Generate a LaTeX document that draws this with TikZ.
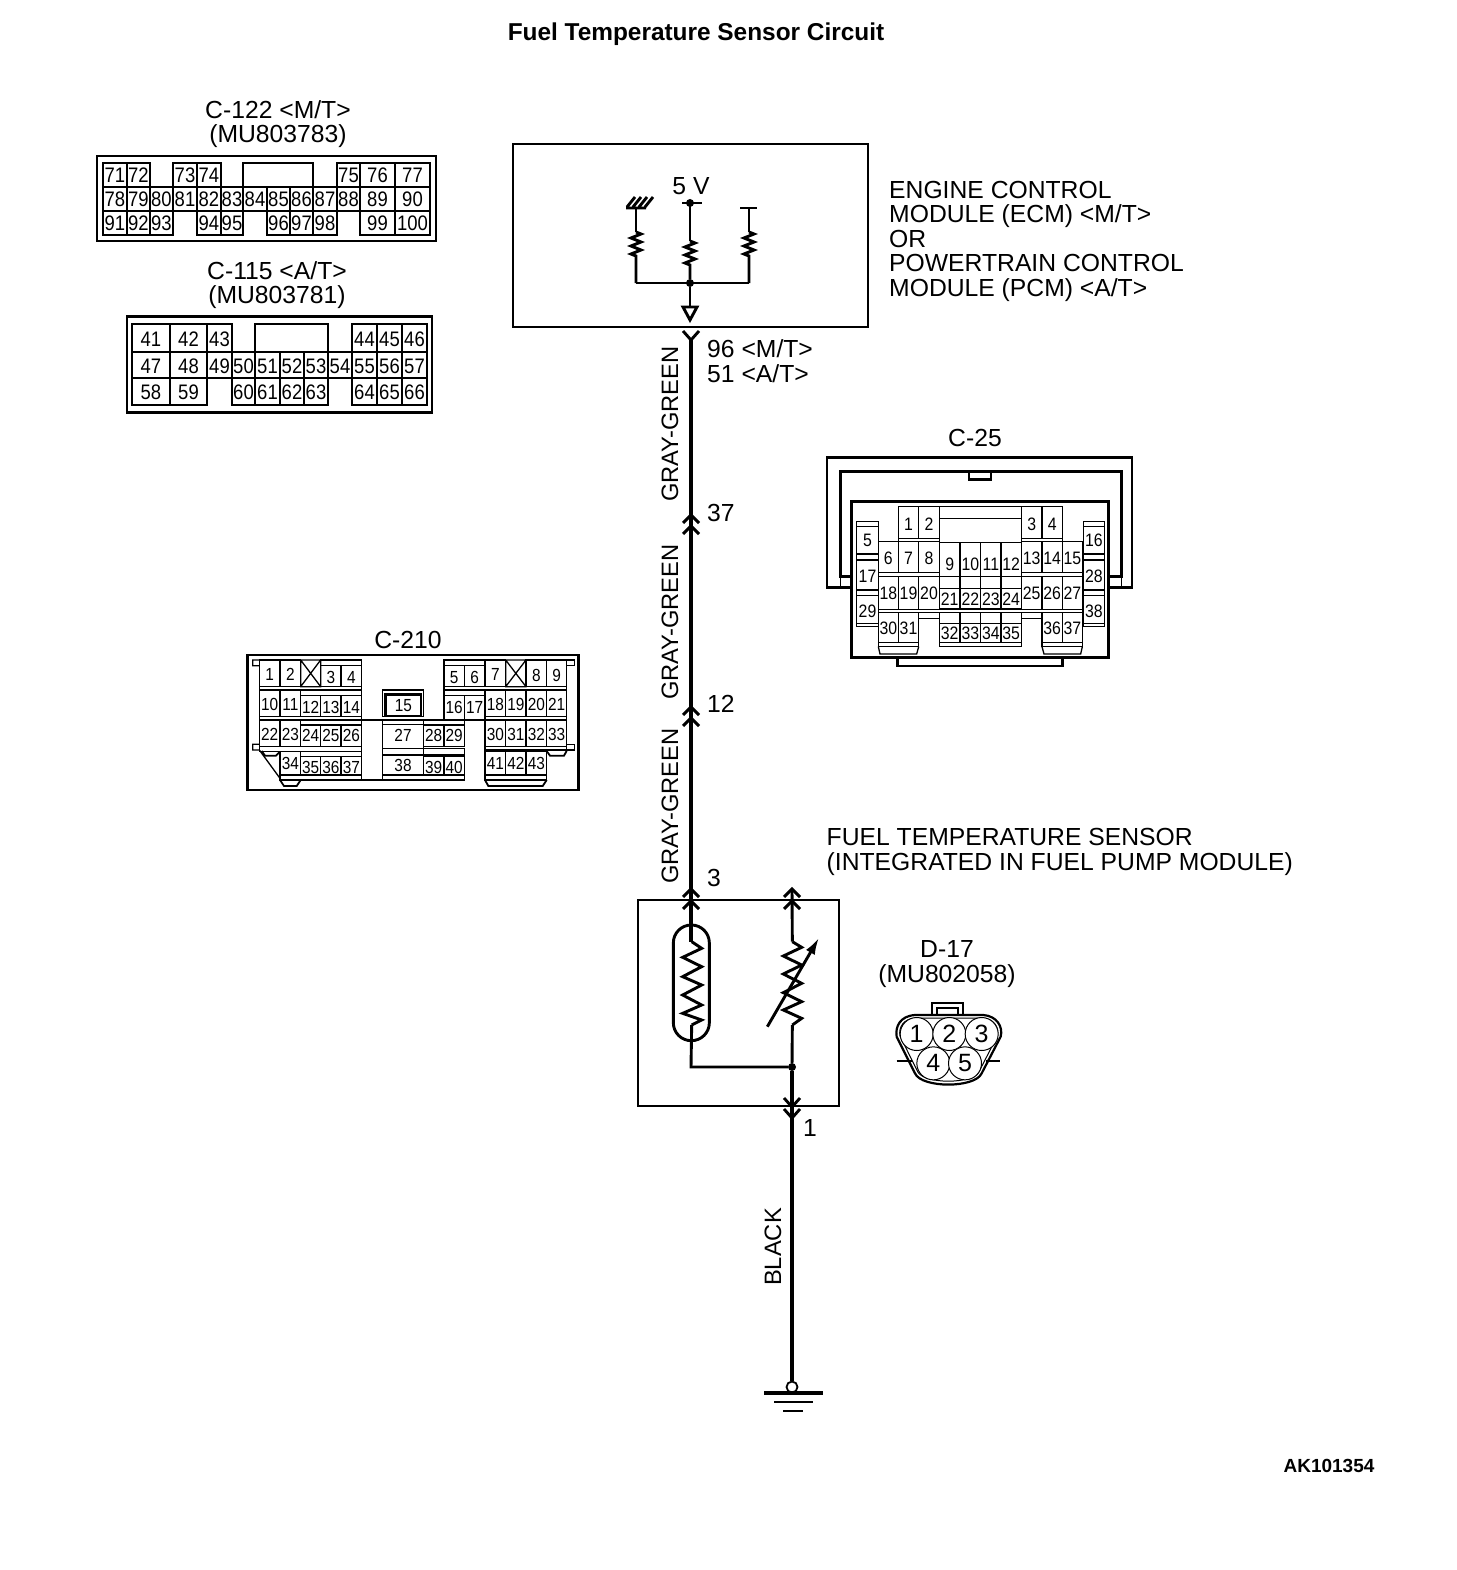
\documentclass[tikz,border=0pt]{standalone}
\usepackage{fontspec}
\setmainfont{Liberation Sans}
\newfontfamily\narrowface[FakeStretch=0.88]{Liberation Sans}
\usetikzlibrary{arrows.meta}
\tikzstyle{caption} = [inner sep=0pt, font=\fontsize{24.7}{24.5}\selectfont, align=center]
\tikzstyle{leftcaption} = [caption, align=left, anchor=west]
\tikzstyle{wirelabel} = [inner sep=0pt, font=\fontsize{23.7}{24}\selectfont, rotate=90]
\tikzstyle{ctrlbox} = [rectangle, draw, line width=2.8pt, inner sep=0pt]
\tikzstyle{shell} = [draw, line width=2.8pt]
\tikzstyle{pincell} = [draw, line width=1.9pt]
\tikzstyle{pinlab} = [inner sep=0pt, font=\pinfont]
\tikzstyle{wire} = [draw, line width=3.8pt]
\tikzstyle{thinwire} = [draw, line width=2.9pt]
\tikzstyle{dot} = [circle, fill, inner sep=0pt, minimum size=8pt]
\newcommand{\pinfont}{\narrowface\fontsize{21}{21}\selectfont}
% prefix, top, bottom, text height, list of left/right/label
\newcommand{\pinrow}[5]{
    \foreach \xa/\xb/\lab in {#5} {
        \draw [pincell] (\xa,#2) rectangle (\xb,#3);
        \node [pinlab] (#1-\lab) at ({(\xa+\xb)/2},#4) {\lab};
    }
}
\newcommand{\smallres}[2]{
    \draw [thinwire] (#1) -- ++(5,2) -- ++(-10,4) -- ++(10,4) -- ++(-10,4) -- ++(10,4) -- ++(-10,4) -- ++(5,2) -- (#2);
}

\begin{document}
\begin{tikzpicture}[x=1pt, y=-1pt, >={Latex[length=17pt,width=10pt]}]
    \useasboundingbox (0,0) rectangle (1456,1570);

    % Captions
    \node [caption, font=\fontsize{24.4}{24}\selectfont\bfseries] (title) at (696,34) {Fuel Temperature Sensor Circuit};
    \node [caption] (capC122) at (278,124) {C-122 <M/T>\\(MU803783)};
    \node [caption] (capC115) at (277,285) {C-115 <A/T>\\(MU803781)};
    \node [caption] (capC210) at (408,640) {C-210};
    \node [caption] (capC25) at (975,438) {C-25};
    \node [caption] (capD17) at (947,964) {D-17\\(MU802058)};
    \node [leftcaption] (capECM) at (889,241) {ENGINE CONTROL\\MODULE (ECM) <M/T>\\OR\\POWERTRAIN CONTROL\\MODULE (PCM) <A/T>};
    \node [leftcaption] (capSensor) at (826.5,852) {FUEL TEMPERATURE SENSOR\\(INTEGRATED IN FUEL PUMP MODULE)};
    \node [caption, font=\fontsize{19}{19}\selectfont\bfseries] (figno) at (1329,1466) {AK101354};

    % Connector C-122
    \node [ctrlbox, minimum width=339pt, minimum height=85pt] (C122) at (266.5,198.5) {};
    \pinrow{a}{163}{187}{175}{103/127/71,127/150/72,173/197/73,197/221/74,337/360/75,360/395/76,395/430/77}
    \draw [pincell] (243,163) rectangle (313,187);
    \pinrow{a}{187}{211}{199}{103/127/78,127/150/79,150/173/80,173/197/81,197/221/82,221/243/83,243/267/84,267/290/85,290/313/86,313/337/87,337/360/88,360/395/89,395/430/90}
    \pinrow{a}{211}{235}{223}{103/127/91,127/150/92,150/173/93,197/221/94,221/243/95,267/290/96,290/313/97,313/337/98,360/395/99,395/430/100}

    % Connector C-115
    \node [ctrlbox, minimum width=305pt, minimum height=96pt] (C115) at (279.5,364.5) {};
    \pinrow{b}{324}{352}{339}{132/170/41,170/207/42,207/232/43,352/377/44,377/402/45,402/427/46}
    \draw [pincell] (255,324) rectangle (328,352);
    \pinrow{b}{352}{378}{366}{132/170/47,170/207/48,207/232/49,232/255/50,255/280/51,280/304/52,304/328/53,328/352/54,352/377/55,377/402/56,402/427/57}
    \pinrow{b}{378}{405}{392}{132/170/58,170/207/59,232/255/60,255/280/61,280/304/62,304/328/63,352/377/64,377/402/65,402/427/66}

    % Connector C-210
    \begin{scope}[shift={(240,645)}, scale=1/3]
        \renewcommand{\pinfont}{\narrowface\fontsize{17.5}{17.5}\selectfont}
        \tikzstyle{pincell} = [draw, line width=1.3pt]
        \draw [shell] (22,30) rectangle (1015,435);
        \pinrow{c}{45}{125}{88}{58/120/1,120/182/2,735/797/7}
        \pinrow{c}{45}{125}{91}{858/920/8,920/980/9}
        \pinrow{c}{62}{125}{98}{242/303/3,303/365/4,612/673/5,673/735/6}
        \pinrow{c}{135}{215}{178}{58/120/10,120/182/11,735/797/18,797/858/19,858/920/20,920/980/21}
        \pinrow{c}{152}{215}{187}{182/242/12,242/303/13,303/365/14}
        \pinrow{c}{152}{225}{186}{612/673/16,673/735/17}
        \pinrow{c}{225}{305}{268}{58/120/22,120/182/23,735/797/30,797/858/31,858/920/32,920/980/33}
        \pinrow{c}{240}{305}{270}{182/242/24,242/303/25,303/365/26,550/612/28,612/673/29}
        \pinrow{c}{320}{390}{356}{120/182/34,735/797/41,797/858/42,858/920/43}
        \pinrow{c}{335}{390}{368}{182/242/35,242/303/36,303/365/37,550/612/39,612/673/40}
        \pinrow{c}{238}{310}{272}{428/550/27}
        \pinrow{c}{330}{390}{362}{428/550/38}
        \draw [pincell] (428,135) rectangle (550,215);
        \draw [shell] (437,148) rectangle (543,213);
        \node [pinlab] (c-15) at (490,183) {15};
        % crossed cells and strips
        \draw [pincell] (182,45) rectangle (242,125) (182,45) -- (242,125) (242,45) -- (182,125);
        \draw [pincell] (797,45) rectangle (858,125) (797,45) -- (858,125) (858,45) -- (797,125);
        \draw [pincell] (242,45) rectangle (365,62) (612,45) rectangle (735,62);
        \draw [pincell] (58,125) rectangle (365,135) (612,125) rectangle (980,135);
        \draw [pincell] (182,135) rectangle (365,152) (612,135) rectangle (735,152);
        \draw [pincell] (58,215) rectangle (365,225) (735,215) rectangle (980,225);
        \draw [pincell] (182,225) rectangle (365,240) (428,225) rectangle (550,238) (550,225) rectangle (673,240);
        \draw [pincell] (58,305) rectangle (365,320) (735,305) rectangle (980,315);
        \draw [pincell] (182,320) rectangle (365,335) (428,310) rectangle (550,330) (550,310) rectangle (673,330);
        \draw [pincell] (120,390) rectangle (365,405) (428,390) rectangle (673,405) (735,390) rectangle (920,405);
        \draw [pincell] (365,225) -- (428,225) (550,225) -- (612,225) (365,405) -- (428,405);
        % ears and tabs
        \draw [pincell] (58,45) -- (38,45) -- (38,62) -- (58,62) (58,298) -- (38,298) -- (38,315) -- (58,315) -- (120,400);
        \draw [pincell] (980,45) -- (1003,45) -- (1003,62) -- (980,62) (980,298) -- (1003,298) -- (1003,315) -- (980,315);
        \draw [shell, line width=1.8pt] (65,318) -- (75,332) -- (108,332) -- (120,320) (120,405) -- (132,423) -- (170,423) -- (182,405);
        \draw [shell, line width=1.8pt] (920,318) -- (930,332) -- (972,332) -- (980,318) (735,405) -- (745,423) -- (908,423) -- (920,405);
    \end{scope}

    % Connector C-25
    \begin{scope}[shift={(820,450)}, scale=1/3]
        \renewcommand{\pinfont}{\narrowface\fontsize{18}{18}\selectfont}
        \tikzstyle{pincell} = [draw, line width=1.3pt]
        \draw [shell] (95,412) -- (21,412) -- (21,22) -- (936,22) -- (936,412) -- (865,412);
        \draw [shell] (95,380) -- (62,380) -- (62,65) -- (905,65) -- (905,380) -- (865,380);
        \draw [shell] (447,65) -- (447,88) -- (513,88) -- (513,65);
        \draw [pincell] (62,380) -- (62,412) (905,380) -- (905,412);
        \draw [shell] (95,155) rectangle (865,622);
        \draw [shell] (232,622) -- (232,648) -- (728,648) -- (728,622);
        \pinrow{d}{170}{265}{222}{235/296/1,296/358/2,604/666/3,666/727/4}
        \draw [pincell] (358,170) rectangle (604,205);
        \draw [pincell] (235,265) rectangle (358,275) (604,265) rectangle (727,275);
        \pinrow{d}{275}{368}{325}{175/235/6,235/296/7,296/358/8,604/666/13,666/727/14,727/787/15}
        \draw [pincell] (175,368) rectangle (358,380) (604,368) rectangle (787,380);
        \pinrow{d}{278}{380}{343}{358/420/9,420/482/10,482/543/11,543/604/12}
        \pinrow{d}{380}{478}{430}{175/235/18,235/296/19,296/358/20,604/666/25,666/727/26,727/787/27}
        \draw [pincell] (358,380) rectangle (420,415) (420,380) rectangle (482,415) (482,380) rectangle (543,415) (543,380) rectangle (604,415);
        \pinrow{d}{415}{475}{447}{358/420/21,420/482/22,482/543/23,543/604/24}
        \draw [pincell] (175,478) rectangle (787,487);
        \pinrow{d}{487}{578}{535}{175/235/30,235/296/31,666/727/36,727/787/37}
        \draw [pincell] (358,487) rectangle (420,520) (420,487) rectangle (482,520) (482,487) rectangle (543,520) (543,487) rectangle (604,520);
        \pinrow{d}{520}{578}{550}{358/420/32,420/482/33,482/543/34,543/604/35}
        \draw [pincell] (358,578) rectangle (604,590) (296,505) -- (358,505) (604,505) -- (666,505);
        \draw [pincell] (175,578) rectangle (296,590) (666,578) rectangle (787,590);
        \draw [pincell] (175,590) -- (180,612) -- (290,612) -- (296,590) (666,590) -- (672,612) -- (782,612) -- (787,590);
        % side columns
        \pinrow{d}{230}{312}{272}{110/175/5,790/853/16}
        \pinrow{d}{330}{420}{378}{110/175/17,790/853/28}
        \pinrow{d}{437}{520}{485}{110/175/29,790/853/38}
        \draw [pincell] (110,215) rectangle (175,230) (110,312) rectangle (175,330) (110,420) rectangle (175,437) (110,520) rectangle (175,530);
        \draw [pincell] (790,215) rectangle (853,230) (790,312) rectangle (853,330) (790,420) rectangle (853,437) (790,520) rectangle (853,530);
    \end{scope}

    % Connector D-17
    \begin{scope}[shift={(880,990)}, scale=1/3]
        \tikzstyle{socket} = [circle, draw, line width=1pt, inner sep=0pt, minimum size=33pt, font=\fontsize{25}{25}\selectfont]
        \draw [shell, line width=2pt] (155,75) -- (155,40) -- (250,40) -- (250,75) (172,75) -- (172,55) -- (235,55) -- (235,75);
        \draw [shell, line width=2.2pt] (105,75) .. controls (60,78) and (45,110) .. (50,140) -- (105,250) .. controls (125,295) and (285,295) .. (305,250) -- (362,140) .. controls (370,110) and (350,78) .. (310,75) -- cycle;
        \draw [pincell, line width=1pt] (108,84) .. controls (70,86) and (55,112) .. (60,138) -- (113,245) .. controls (132,283) and (278,283) .. (297,245) -- (352,138) .. controls (358,112) and (342,86) .. (307,84) -- cycle;
        \draw [thinwire, line width=2pt] (50,212) -- (95,212) (318,212) -- (360,212);
        \node [socket, fill=white] (d-1) at (110,132) {1};
        \node [socket, fill=white] (d-2) at (208,132) {2};
        \node [socket, fill=white] (d-3) at (305,132) {3};
        \node [socket, fill=white] (d-4) at (160,220) {4};
        \node [socket, fill=white] (d-5) at (255,220) {5};
    \end{scope}

    % ECM
    \node [ctrlbox, minimum width=355pt, minimum height=183pt] (ecm) at (690.5,235.5) {};
    \node [caption] (volt) at (691,186) {5 V};
    \coordinate (left top) at (636,208);
    \coordinate (mid top) at (690,203);
    \coordinate (right top) at (749,208);
    \coordinate (left low) at (636,283);
    \coordinate (right low) at (749,283);
    \node [dot] (bus) at (690,283) {};
    \coordinate (tip) at (690,320);
    \draw [thinwire] (left top) -- (636,232);
    \smallres{636,232}{left low}
    \draw [thinwire] (mid top) -- (690,241);
    \smallres{690,241}{bus}
    \draw [thinwire] (right top) -- (749,232);
    \smallres{749,232}{right low}
    \draw [thinwire] (left low) -- (right low);
    \draw [thinwire] (bus) -- (690,307);
    \draw [thinwire, line join=miter] (tip) -- ++(-7,-13) -- ++(14,0) -- cycle;
    \draw [thinwire] (626,208) -- (646,208) (627,207) -- ++(8,-10) (633,207) -- ++(8,-10) (639,207) -- ++(8,-10) (645,207) -- ++(8,-10);
    \draw [thinwire] (682,203) -- (702,203);
    \node [dot] (vdot) at (mid top) {};
    \draw [thinwire] (740,208) -- (757,208);

    % Sensor
    \node [ctrlbox, minimum width=201pt, minimum height=206pt] (sensor) at (738.5,1003) {};
    \coordinate (pin96) at (691,340);
    \coordinate (pin37) at (691,515);
    \coordinate (pin37b) at (691,526);
    \coordinate (pin12) at (691,707);
    \coordinate (pin12b) at (691,718);
    \coordinate (pin3) at (691,889);
    \coordinate (pin3b) at (691,901);
    \coordinate (pin4) at (792,889);
    \coordinate (pin4b) at (792,901);
    \node [dot] (junction) at (792,1067) {};
    \coordinate (corner) at (691,1067);
    \coordinate (pin1) at (792,1107);
    \coordinate (pin1b) at (792,1118);
    \coordinate (gnd) at (792,1381);

    \begin{scope}[shift={(630,870)}, scale=1/3]
        \draw [thinwire, rounded corners=17.9pt] (130,165) rectangle (238,512);
        \coordinate (resA) at (185,215);
        \coordinate (resB) at (185,465);
        \coordinate (varA) at (487,215);
        \coordinate (varB) at (487,465);
        \draw [thinwire] (resA) -- (215,235) -- (158,262) -- (215,290) -- (158,320) -- (215,345) -- (158,375) -- (215,405) -- (158,430) -- (215,450) -- (resB);
        \draw [thinwire] (varA) -- (515,232) -- (460,258) -- (515,285) -- (460,312) -- (515,340) -- (460,368) -- (515,395) -- (460,420) -- (515,445) -- (varB);
        \coordinate (slideA) at (412,470);
        \coordinate (slideB) at (567,203);
        \draw [->, thinwire] (slideA) -- (slideB);
    \end{scope}

    % Connections
    \draw [wire] (pin96) -- (pin37) (pin37) -- (pin12) (pin12) -- (pin3) (pin3) -- (corner |- resA);
    \draw [thinwire] (pin4) -- (varA) (varB) -- (junction) (resB) -- (corner) -- (junction);
    \draw [wire] (junction) -- (gnd);
    \foreach \pin in {pin37,pin37b,pin12,pin12b,pin3,pin3b,pin4,pin4b} {
        \draw [thinwire] (\pin) ++(-8,8) -- ++(8,-8) -- ++(8,8);
    }
    \foreach \pin in {pin96,pin1,pin1b} {
        \draw [thinwire] (\pin) ++(-8,-9) -- ++(8,9) -- ++(8,-9);
    }

    % Ground
    \node [circle, draw, line width=1.8pt, fill=white, inner sep=0pt, minimum size=11pt] (gndring) at (792,1387) {};
    \draw [wire] (764,1393) -- (823,1393);
    \draw [thinwire] (774,1402) -- (813,1402);
    \draw [thinwire, line width=1.8pt] (783,1411) -- (803,1411);

    % Wire labels
    \node [wirelabel] (lab1) at (670,424) {GRAY-GREEN};
    \node [wirelabel] (lab2) at (670,622) {GRAY-GREEN};
    \node [wirelabel] (lab3) at (670,806) {GRAY-GREEN};
    \node [wirelabel] (lab4) at (773,1247) {BLACK};
    \node [leftcaption] (pinA) at (707,361) {96 <M/T>\\51 <A/T>};
    \node [leftcaption] (pinB) at (707,513) {37};
    \node [leftcaption] (pinC) at (707,704) {12};
    \node [leftcaption] (pinD) at (707,878) {3};
    \node [leftcaption] (pinE) at (803,1128) {1};
\end{tikzpicture}
\end{document}
